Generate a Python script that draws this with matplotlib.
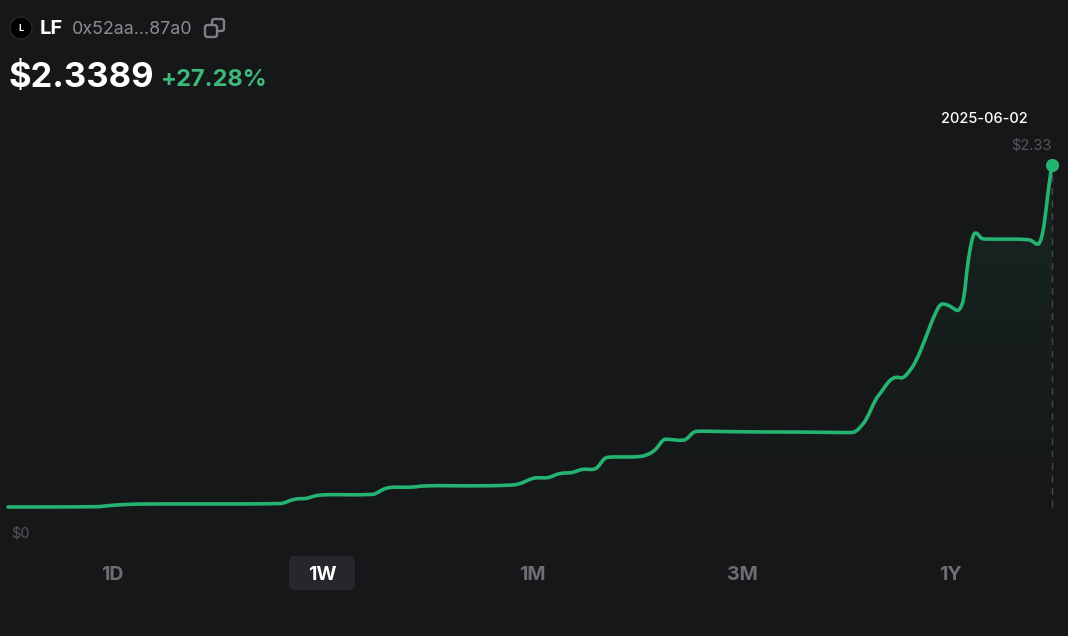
import matplotlib
matplotlib.use("Agg")
import matplotlib.pyplot as plt
import numpy as np
from matplotlib.patches import Circle, FancyBboxPatch, PathPatch
from matplotlib.path import Path

plt.rcParams["font.family"] = ["Inter", "DejaVu Sans"]

# 価格データ (横位置は画面上の位置で読み取り)
times = [8, 95, 103, 112, 125, 140, 200, 280, 285, 291, 298, 306, 312, 318, 330, 372, 377, 382, 388, 398, 412, 425, 470, 510, 520, 527, 533, 538, 548, 554, 561, 572, 578, 584, 595, 600, 604, 608, 620, 640, 647, 653, 658, 663, 667, 683, 688, 693, 698, 720, 760, 800, 845, 851, 855, 860, 867, 875, 882, 888, 893, 898, 903, 909, 916, 925, 931, 936, 940, 944, 950, 955, 958, 961, 964, 967, 970, 973, 975, 978, 981, 984, 1000, 1028, 1033, 1037, 1040, 1043, 1046, 1049, 1052]
prices = [0.0, 0.0, 0.005, 0.012, 0.017, 0.021, 0.021, 0.021, 0.03, 0.047, 0.058, 0.056, 0.07, 0.081, 0.085, 0.082, 0.095, 0.117, 0.133, 0.136, 0.133, 0.147, 0.143, 0.147, 0.157, 0.18, 0.197, 0.2, 0.197, 0.215, 0.232, 0.232, 0.249, 0.26, 0.252, 0.29, 0.33, 0.341, 0.341, 0.341, 0.355, 0.375, 0.41, 0.46, 0.463, 0.45, 0.47, 0.51, 0.518, 0.514, 0.511, 0.511, 0.507, 0.507, 0.51, 0.54, 0.6, 0.73, 0.79, 0.85, 0.88, 0.885, 0.875, 0.92, 0.99, 1.14, 1.25, 1.33, 1.38, 1.385, 1.37, 1.345, 1.335, 1.36, 1.42, 1.62, 1.76, 1.85, 1.87, 1.86, 1.83, 1.825, 1.825, 1.825, 1.81, 1.785, 1.8, 1.87, 2.02, 2.2, 2.33]

period_labels = ["1D", "1W", "1M", "3M", "1Y"]
period_x = [112, 322, 532, 742, 950]
last_date = "2025-06-02"
last_label = "$2.33"

BG = "#161719"
GREEN = "#25b371"
W, H = 1068, 636

fig = plt.figure(figsize=(W / 100, H / 100), dpi=100, facecolor=BG)

# チャート本体
ax = fig.add_axes([0, 0, 1, 1], facecolor="none")
y0, y1 = 507, 165
per_px = prices[-1] / (y0 - y1)

# 線の下のグラデーション
poly = ax.fill_between(times, prices, 0, color="none")
grad = np.zeros((256, 2, 4))
grad[..., :3] = matplotlib.colors.to_rgb(GREEN)
grad[..., 3] = np.linspace(0.10, 0.0, 256)[:, None]
img = ax.imshow(grad, extent=[times[0], times[-1], 0, max(prices)], aspect="auto", origin="upper", zorder=1)
img.set_clip_path(poly.get_paths()[0], ax.transData)

ax.plot([times[-1], times[-1]], [0, prices[-1]], color="#44464a", lw=1, dashes=(5, 4), zorder=2)

# 角を丸めるため読み取った点を制御点にした曲線で描く
pts = np.column_stack([times, prices])
mids = (pts[:-1] + pts[1:]) / 2
verts = [pts[0]]
codes = [Path.MOVETO]
for p, m in zip(pts[1:-1], mids[1:]):
    verts += [p, m]
    codes += [Path.CURVE3, Path.CURVE3]
verts.append(pts[-1])
codes.append(Path.LINETO)
ax.add_patch(PathPatch(Path(verts, codes), fc="none", ec=GREEN, lw=2.6, capstyle="round", joinstyle="round", zorder=3))

ax.plot(times[-1], prices[-1], "o", color=GREEN, ms=9.5, mew=0, zorder=4)
ax.set_xlim(0, W)
ax.set_ylim((y0 - H) * per_px, y0 * per_px)
ax.axis("off")

# 画面の部品はピクセル座標で置く
ui = fig.add_axes([0, 0, 1, 1], facecolor="none")
ui.set_xlim(0, W)
ui.set_ylim(H, 0)
ui.axis("off")

ui.add_patch(Circle((21, 28), 11, fc="#000000", ec="#2c2d30", lw=0.8))
ui.text(21, 28.5, "L", color="white", fontsize=6.5, fontweight="bold", ha="center", va="center")
ui.text(40, 29, "LF", color="white", fontsize=14.5, fontweight="bold", va="center")
ui.text(72, 29, "0x52aa...87a0", color="#8b8d91", fontsize=12.9, va="center")

# コピーアイコン
ui.add_patch(FancyBboxPatch((212, 19), 12, 12, boxstyle="round,pad=0,rounding_size=2.5", fc="none", ec="#7d7f83", lw=1.7))
ui.add_patch(FancyBboxPatch((205, 25), 12, 12, boxstyle="round,pad=0,rounding_size=2.5", fc=BG, ec="#7d7f83", lw=1.7))

ui.text(9, 78, "$2.3389", color="white", fontsize=24.8, fontweight="bold", va="center")
ui.text(161, 80, "+27.28%", color="#3dba7a", fontsize=17, fontweight="bold", va="center")

ui.text(1028, 119, last_date, color="white", fontsize=10.5, fontweight="medium", ha="right", va="center")
ui.text(1052, 145.5, last_label, color="#54565a", fontsize=10.5, ha="right", va="center")
ui.text(11, 533.5, "$0", color="#54565a", fontsize=10.5, va="center")

ui.add_patch(FancyBboxPatch((289, 556), 66, 34, boxstyle="round,pad=0,rounding_size=5", fc="#25272b", ec="none"))
for label, x in zip(period_labels, period_x):
    active = label == "1W"
    ui.text(x, 575, label, color="white" if active else "#6c6e72", fontsize=14, fontweight="bold", ha="center", va="center")

fig.savefig("out.png", dpi=100, facecolor=BG)
